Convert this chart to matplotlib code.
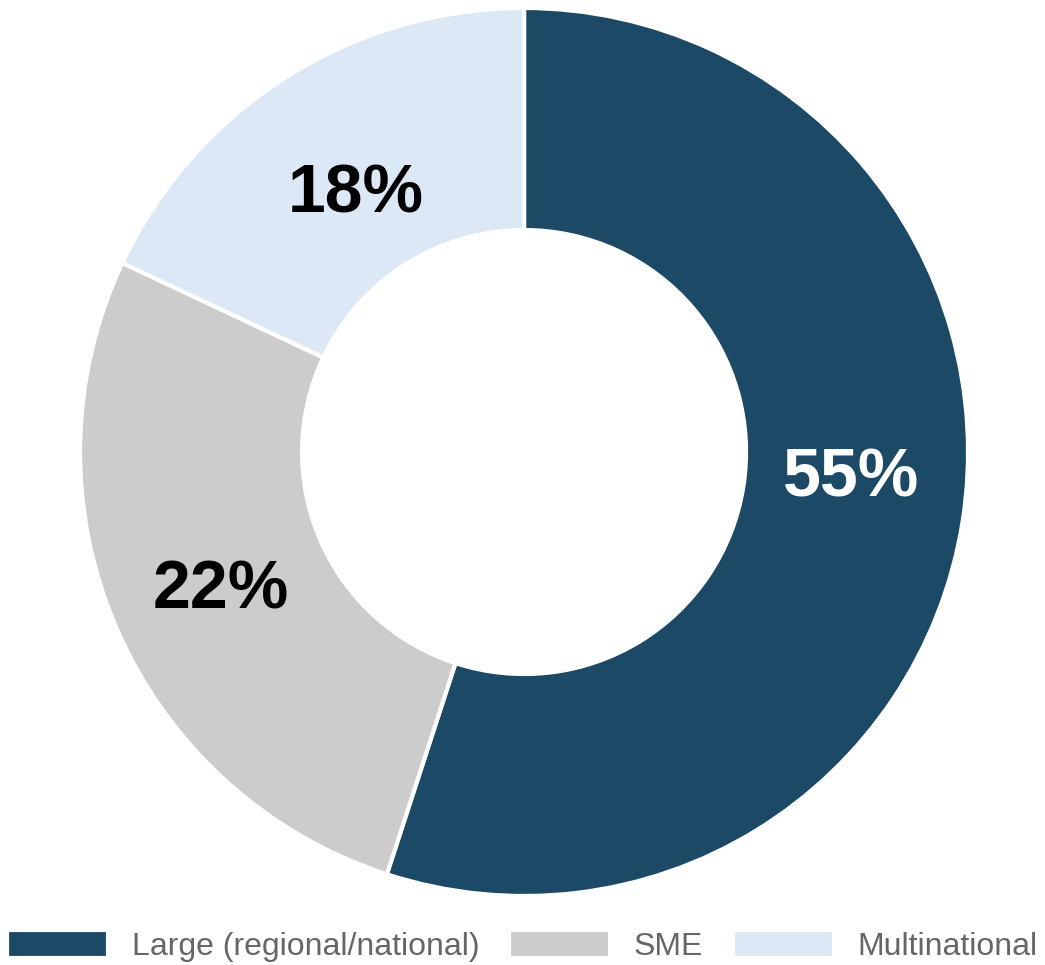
import numpy as np
import matplotlib.pyplot as plt

plt.rcParams['font.family'] = ['Liberation Sans', 'DejaVu Sans']

# dados do gráfico
categorias = ['Large (regional/national)', 'SME', 'Multinational']
valores = [55, 27, 18]
rotulos = ['55%', '22%', '18%']
cores = ['#1c4a66', '#cccccc', '#dde8f6']
cores_texto = ['white', 'black', 'black']
# pequeno ajuste de posição dos rótulos (pixels)
desloc = [(-2, 26), (2, -6), (10, -24)]

fig = plt.figure(figsize=(10.45, 9.65), dpi=100)
ax = fig.add_axes([0.0766, 0.0715, 0.8498, 0.9202])

wedges, _ = ax.pie(valores, colors=cores, startangle=90, counterclock=False,
                   radius=1.0, wedgeprops=dict(width=0.5, edgecolor='white', linewidth=3))
ax.set_xlim(-1, 1)
ax.set_ylim(-1, 1)
ax.set_aspect('equal')
ax.axis('off')

# rótulos no meio de cada fatia
for w, rot, cor, d in zip(wedges, rotulos, cores_texto, desloc):
    ang = np.deg2rad((w.theta1 + w.theta2) / 2)
    r = 0.75
    ax.annotate(rot, (r * np.cos(ang), r * np.sin(ang)), xytext=d, textcoords='offset pixels',
                ha='center', va='center', fontsize=49, fontweight='bold', color=cor)

fig.legend(wedges, categorias, loc='center', bbox_to_anchor=(0.5, 1 - 946 / 965),
           ncol=3, frameon=False, fontsize=23, labelcolor='#666666',
           handlelength=3.15, handleheight=0.95, handletextpad=0.75, columnspacing=0.94)

fig.savefig('out.png', dpi=100)
